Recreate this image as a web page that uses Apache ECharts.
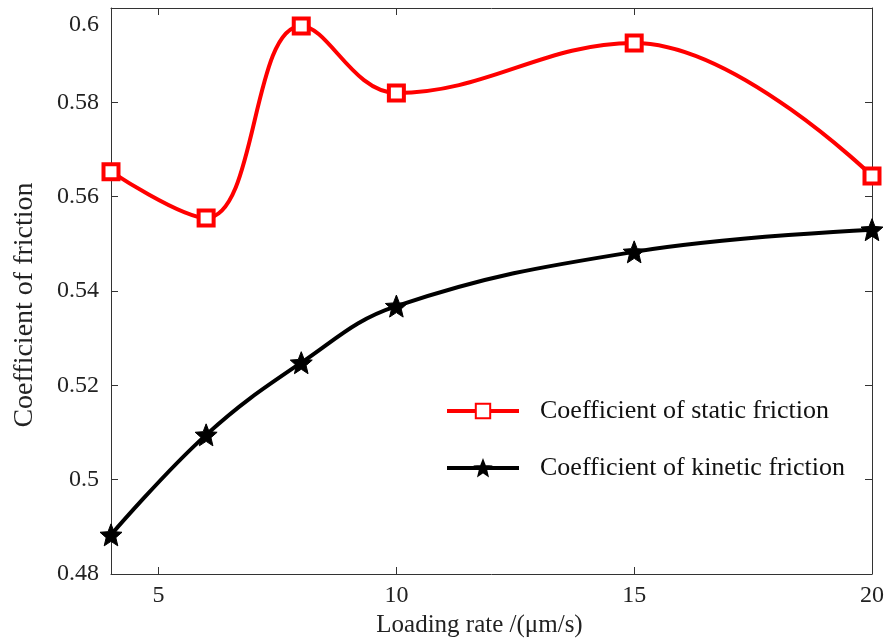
<!DOCTYPE html>
<html>
<head>
<meta charset="utf-8">
<script src="https://cdn.jsdelivr.net/npm/echarts@6/dist/echarts.min.js"></script>
<style>html,body{margin:0;padding:0;background:#fff}#c{width:888px;height:638px}</style>
</head>
<body>
<div id="c"></div>
<script>
var loadingRate = [4, 6, 8, 10, 15, 20];
var staticFriction = [0.5653, 0.5555, 0.5962, 0.5820, 0.5926, 0.5644];
var kineticFriction = [0.4883, 0.5095, 0.5248, 0.5368, 0.5483, 0.5530];
var xTicks = [5, 10, 15, 20];
var yTicks = [0.48, 0.5, 0.52, 0.54, 0.56, 0.58, 0.6];
var seriesNames = ['Coefficient of static friction', 'Coefficient of kinetic friction'];

var star = 'path://M50 0 L62.93 32.2 L97.55 34.55 L70.92 56.8 L79.39 90.45 L50 72 L20.61 90.45 L29.08 56.8 L2.45 34.55 L37.07 32.2 Z';
var font = 'Liberation Serif';
var chart = echarts.init(document.getElementById('c'));

function pairs(xs, ys) { return xs.map(function (x, i) { return [x, ys[i]]; }); }

var axisLine = { show: true, lineStyle: { color: '#333', width: 1 } };
var tickIn = { show: true, inside: true, length: 7, lineStyle: { color: '#333' } };
var xTickIn = { show: true, inside: true, length: 7, lineStyle: { color: '#333' }, customValues: xTicks };

chart.setOption({
  backgroundColor: '#fff',
  animation: false,
  grid: { left: 111, right: 16, top: 8, bottom: 64, show: false, outerBoundsMode: 'none', containLabel: false },
  legend: {
    orient: 'vertical',
    left: 440,
    top: 393,
    itemWidth: 72,
    itemHeight: 18,
    itemGap: 31,
    lineStyle: { width: 4 },
    textStyle: { fontFamily: font, fontSize: 26, color: '#111', padding: [0, 0, 0, 16] },
    data: seriesNames
  },
  xAxis: [{
    type: 'value', min: 4, max: 20,
    axisLine: axisLine, axisTick: xTickIn,
    splitLine: { show: false },
    axisLabel: {
      fontFamily: font, fontSize: 24, color: '#222', margin: 10,
      customValues: xTicks
    },
    name: 'Loading rate /(\u03bcm/s)', nameLocation: 'middle', nameGap: 36,
    nameTextStyle: { fontFamily: font, fontSize: 25, color: '#222', padding: [0, 24, 0, 0] }
  }, {
    type: 'value', min: 4, max: 20, position: 'top',
    axisLine: axisLine, axisTick: xTickIn,
    axisLabel: { show: false }, splitLine: { show: false }
  }],
  yAxis: [{
    type: 'value', min: 0.48, max: 0.6, interval: 0.02,
    axisLine: axisLine, axisTick: tickIn,
    splitLine: { show: false },
    axisLabel: {
      fontFamily: font, fontSize: 24, color: '#222', margin: 12,
      formatter: function (v) {
        var s = String(+v.toFixed(2));
        return Math.abs(v - 0.6) < 1e-9 ? '{t|' + s + '}' : s;
      },
      rich: { t: { fontFamily: font, fontSize: 24, color: '#222', padding: [34, 0, 0, 0] } }
    },
    name: 'Coefficient of friction', nameLocation: 'middle', nameGap: 72,
    nameTextStyle: { fontFamily: font, fontSize: 28, color: '#222', padding: [0, 28, 0, 0] }
  }, {
    type: 'value', min: 0.48, max: 0.6, interval: 0.02, position: 'right',
    axisLine: axisLine, axisTick: tickIn,
    axisLabel: { show: false }, splitLine: { show: false }
  }],
  series: [{
    name: seriesNames[0], type: 'line', smooth: 0.4,
    data: pairs(loadingRate, staticFriction),
    symbol: 'rect', symbolSize: 15,
    lineStyle: { color: '#ff0000', width: 4 },
    itemStyle: { color: '#fff', borderColor: '#ff0000', borderWidth: 4 },
    z: 3
  }, {
    name: seriesNames[1], type: 'line', smooth: 0.4,
    data: pairs(loadingRate, kineticFriction),
    symbol: star, symbolSize: 22,
    lineStyle: { color: '#000', width: 4 },
    itemStyle: { color: '#000', borderColor: '#000', borderWidth: 1 },
    z: 3
  }]
});
</script>
</body>
</html>
